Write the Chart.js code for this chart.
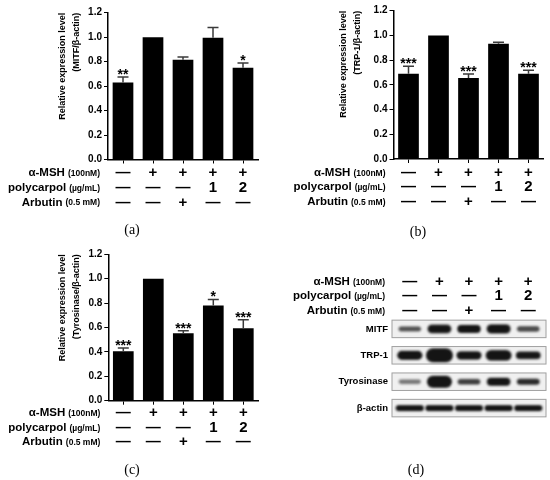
<!DOCTYPE html>
<html><head><meta charset="utf-8">
<script src="https://cdn.jsdelivr.net/npm/chart.js@4/dist/chart.umd.min.js"></script>
<style>
html,body{margin:0;padding:0;background:#fff;width:550px;height:480px;overflow:hidden}
.p{position:absolute;width:275px;height:240px}
.p canvas{display:block}
.lab{position:absolute;font-family:"Liberation Serif","Times New Roman",serif;font-size:14px;color:#000;transform:translate(-50%,-50%);white-space:nowrap;line-height:1}
</style></head><body>
<div class="p" style="left:0;top:0"><canvas id="ca" width="275" height="240"></canvas></div>
<div class="p" style="left:275px;top:0"><canvas id="cb" width="275" height="240"></canvas></div>
<div class="p" style="left:0;top:240px"><canvas id="cc" width="275" height="240"></canvas></div>
<div class="p" style="left:275px;top:240px"><canvas id="cd" width="275" height="240"></canvas></div>
<div class="lab" style="left:132px;top:230px">(a)</div>
<div class="lab" style="left:418px;top:232px">(b)</div>
<div class="lab" style="left:132px;top:470px">(c)</div>
<div class="lab" style="left:416px;top:470px">(d)</div>
<script>
// ---------- data ----------
const groups = ['Control', 'α-MSH', 'α-MSH + Arbutin', 'α-MSH + polycarpol 1', 'α-MSH + polycarpol 2'];
const mshRow = ['—', '+', '+', '+', '+'];
const polyRow = ['—', '—', '—', '1', '2'];
const arbRow = ['—', '—', '+', '—', '—'];
const rowHeaders = [['α-MSH', '(100nM)'], ['polycarpol', '(µg/mL)'], ['Arbutin', '(0.5 mM)']];
const yTickValues = [0, 0.2, 0.4, 0.6, 0.8, 1.0, 1.2];

const mitfMean = [0.63, 1.00, 0.815, 0.995, 0.75];
const mitfErr = [0.045, 0, 0.022, 0.085, 0.038];
const mitfSig = ['**', '', '', '', '*'];

const trpMean = [0.69, 1.00, 0.655, 0.933, 0.69];
const trpErr = [0.06, 0, 0.032, 0.011, 0.028];
const trpSig = ['***', '', '***', '', '***'];

const tyrMean = [0.405, 1.00, 0.553, 0.78, 0.593];
const tyrErr = [0.027, 0, 0.02, 0.05, 0.07];
const tyrSig = ['***', '', '***', '*', '***'];

const blotProteins = ['MITF', 'TRP-1', 'Tyrosinase', 'β-actin'];
const mitfBand = [0.30, 0.65, 0.58, 0.70, 0.32];
const trpBand = [0.55, 1.00, 0.50, 0.70, 0.45];
const tyrBand = [0.22, 1.00, 0.36, 0.60, 0.40];
const actinBand = [0.80, 0.80, 0.80, 0.80, 0.80];

// ---------- styles ----------
const F = '"Liberation Sans", Arial, Helvetica, sans-serif';
const W = 275, H = 240;

function rowsPlugin(rowsY, gap) {
  return {
    id: 'rows',
    afterDraw(chart) {
      const ctx = chart.ctx, xs = chart.scales.x, ca = chart.chartArea;
      const rows = [mshRow, polyRow, arbRow];
      ctx.save();
      ctx.fillStyle = '#000';
      ctx.textBaseline = 'middle';
      rows.forEach((row, r) => {
        const y = rowsY[r];
        const hx = ca.left - gap;
        ctx.textAlign = 'right';
        ctx.font = 'bold 8.5px ' + F;
        const pw = ctx.measureText(rowHeaders[r][1]).width;
        ctx.fillText(rowHeaders[r][1], hx, y + 0.5);
        ctx.font = 'bold 11.5px ' + F;
        ctx.fillText(rowHeaders[r][0], hx - pw - 3, y);
        ctx.textAlign = 'center';
        ctx.font = 'bold 15px ' + F;
        row.forEach((s, i) => {
          ctx.fillText(s, xs.getPixelForValue(i), y);
        });
      });
      ctx.restore();
    }
  };
}

function errPlugin(mean, err, sig) {
  return {
    id: 'err',
    afterDatasetsDraw(chart) {
      const ctx = chart.ctx, ys = chart.scales.y;
      const meta = chart.getDatasetMeta(0);
      ctx.save();
      meta.data.forEach((bar, i) => {
        const x = bar.x;
        const yb = ys.getPixelForValue(mean[i]);
        const yt = ys.getPixelForValue(mean[i] + err[i]);
        if (err[i] > 0) {
          ctx.strokeStyle = '#3a3a3a';
          ctx.lineWidth = 1.5;
          ctx.beginPath();
          ctx.moveTo(x, yb); ctx.lineTo(x, yt);
          ctx.moveTo(x - 5.5, yt); ctx.lineTo(x + 5.5, yt);
          ctx.stroke();
        }
        if (sig[i]) {
          ctx.fillStyle = '#000';
          ctx.font = 'bold 14px ' + F;
          ctx.textAlign = 'center';
          ctx.textBaseline = 'alphabetic';
          ctx.fillText(sig[i], x, yt + 2);
        }
      });
      ctx.restore();
    }
  };
}

function barChart(id, mean, err, sig, titleLines, L) {
  return new Chart(document.getElementById(id), {
    type: 'bar',
    data: {
      labels: groups,
      datasets: [{ data: mean, backgroundColor: '#000', borderWidth: 0, barPercentage: 0.69, categoryPercentage: 1 }]
    },
    options: {
      responsive: false, animation: false,
      layout: { padding: { left: 0, right: W - L.right, top: L.top, bottom: 0 } },
      plugins: { legend: { display: false }, tooltip: { enabled: false } },
      scales: {
        x: {
          grid: { display: true, drawOnChartArea: false, drawTicks: true, tickLength: 4, offset: false, color: '#000', lineWidth: 1 },
          border: { display: true, color: '#000', width: 1.5 },
          ticks: { display: false },
          afterFit(s) { s.height = H - L.bottom; }
        },
        y: {
          min: 0, max: 1.2,
          afterBuildTicks(s) { s.ticks = yTickValues.map(v => ({ value: v })); },
          ticks: { padding: 2, color: '#000', font: { family: F, size: 10, weight: 'bold' }, callback: v => Number(v).toFixed(1) },
          grid: { display: true, drawOnChartArea: false, drawTicks: true, tickLength: 4, color: '#000', lineWidth: 1 },
          border: { display: true, color: '#000', width: 1.5 },
          title: {
            display: true, text: titleLines, align: 'end', color: '#000',
            font: { family: F, size: 9, weight: 'bold', lineHeight: '14px' },
            padding: { top: L.titleX - 7, bottom: 0 }
          },
          afterFit(s) { s.width = L.left; }
        }
      }
    },
    plugins: [rowsPlugin(L.rows, 8), errPlugin(mean, err, sig)]
  });
}

barChart('ca', mitfMean, mitfErr, mitfSig, ['Relative expression level', '(MITF/β-actin)'],
  { left: 108, right: 258, top: 12.7, bottom: 159.5, titleX: 63, rows: [173.2, 188, 202.5] });
barChart('cb', trpMean, trpErr, trpSig, ['Relative expression level', '(TRP-1/β-actin)'],
  { left: 118.5, right: 268.5, top: 10.7, bottom: 159, titleX: 69, rows: [172.7, 187.2, 201.7] });
barChart('cc', tyrMean, tyrErr, tyrSig, ['Relative expression level', '(Tyrosinase/β-actin)'],
  { left: 108.3, right: 258.3, top: 14.3, bottom: 160.7, titleX: 63, rows: [173.3, 187.8, 202] });

// ---------- western blot ----------
const bandStyle = [
  { k: 0.85, w: 25 },
  { k: 1.0, w: 27 },
  { k: 0.85, w: 25 },
  { k: 0.5, w: 29 }
];
function bandImage(v, st) {
  const h = st.k * (2.5 + 11.5 * v);
  const w = st.w * (0.85 + 0.15 * v);
  const a = Math.min(0.97, 1.8 * v + 0.15);
  const c = document.createElement('canvas');
  c.width = Math.ceil(w + 10); c.height = Math.ceil(h + 10);
  const g = c.getContext('2d');
  g.filter = 'blur(1.2px)';
  g.fillStyle = 'rgba(12,12,12,' + a + ')';
  g.beginPath();
  const x0 = (c.width - w) / 2, y0 = (c.height - h) / 2;
  g.roundRect(x0, y0, w, h, Math.min(h / 2, w / 2));
  g.fill();
  return c;
}
const blotRows = [mitfBand, trpBand, tyrBand, actinBand];
const blotBoxes = {
  id: 'boxes',
  beforeDatasetsDraw(chart) {
    const ctx = chart.ctx, ys = chart.scales.y, ca = chart.chartArea;
    ctx.save();
    blotProteins.forEach((p, r) => {
      const yc = ys.getPixelForValue(r);
      const x0 = ca.left - 3, x1 = ca.right + 3, hh = 17.5;
      ctx.fillStyle = '#f0f0f0';
      ctx.fillRect(x0, yc - hh / 2, x1 - x0, hh);
      ctx.strokeStyle = '#a0a0a0';
      ctx.lineWidth = 1;
      ctx.strokeRect(x0, yc - hh / 2, x1 - x0, hh);
    });
    ctx.restore();
  }
};
new Chart(document.getElementById('cd'), {
  type: 'scatter',
  data: {
    datasets: blotProteins.map((p, r) => ({
      data: groups.map(gname => ({ x: gname, y: p })),
      pointStyle: blotRows[r].map(v => bandImage(v, bandStyle[r])),
      pointRadius: 3, clip: false
    }))
  },
  options: {
    responsive: false, animation: false,
    layout: { padding: { left: 0, right: W - 268, top: 75.7, bottom: H - 181.3 } },
    plugins: { legend: { display: false }, tooltip: { enabled: false } },
    scales: {
      x: { type: 'category', labels: groups, offset: true, display: false },
      y: {
        type: 'category', labels: blotProteins, offset: true,
        grid: { display: false, drawTicks: false }, border: { display: false },
        ticks: { padding: 7, color: '#000', font: { family: F, size: 9.5, weight: 'bold' } },
        afterFit(s) { s.width = 120; }
      }
    }
  },
  plugins: [blotBoxes, rowsPlugin([42, 56.3, 70.8], 10)]
});
</script>
</body></html>
